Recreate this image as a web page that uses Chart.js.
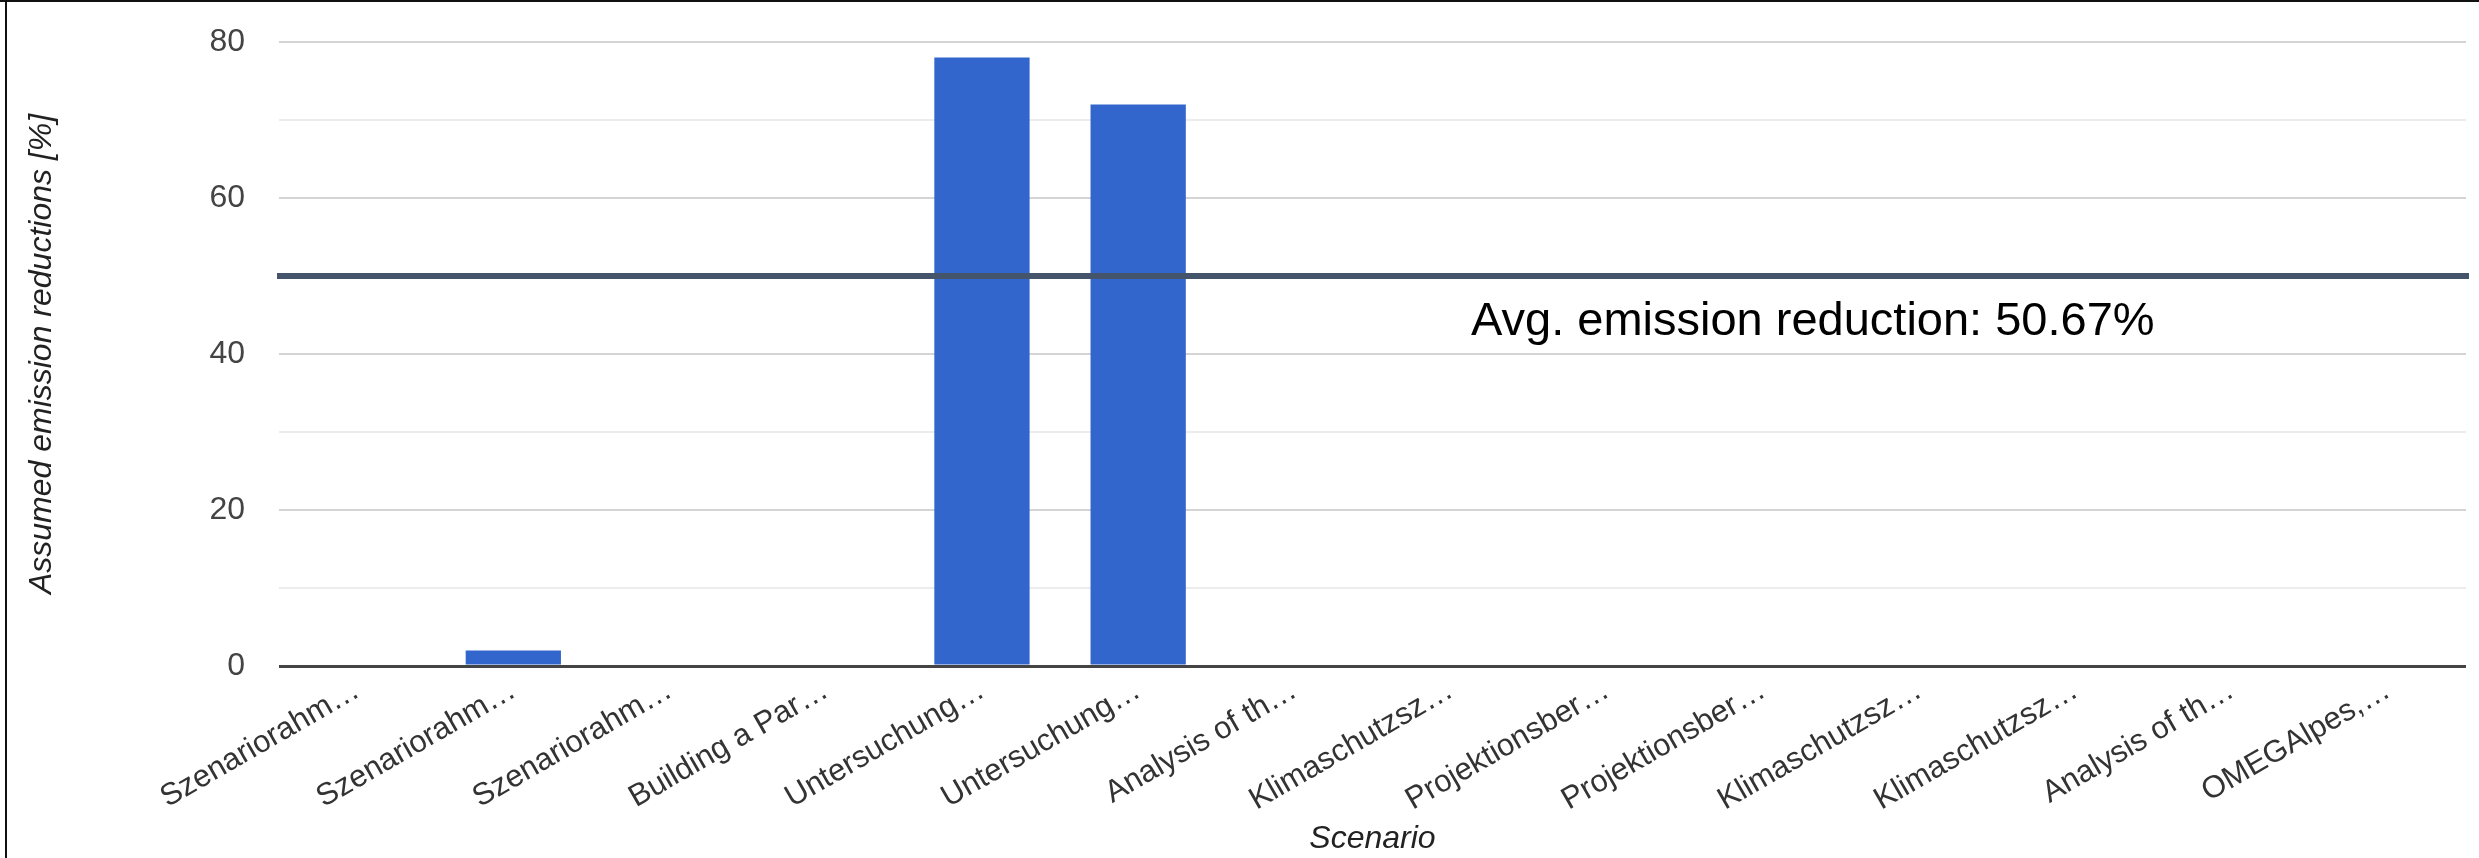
<!DOCTYPE html>
<html lang="en">
<head>
    <meta charset="UTF-8">
    <title>Assumed emission reductions</title>
    <style>
        html, body {
            margin: 0;
            padding: 0;
            background: #fff;
        }
        #wrap {
            width: 2479px;
            height: 858px;
        }
    </style>
</head>
<body>
    <div id="wrap">
        <canvas id="chart" width="2479" height="858"></canvas>
    </div>
<script src="https://cdn.jsdelivr.net/npm/chart.js"></script>
<script>
    // data
    const scenarios = [
        'Szenariorahm…', 'Szenariorahm…', 'Szenariorahm…', 'Building a Par…',
        'Untersuchung…', 'Untersuchung…', 'Analysis of th…', 'Klimaschutzsz…',
        'Projektionsber…', 'Projektionsber…', 'Klimaschutzsz…', 'Klimaschutzsz…',
        'Analysis of th…', 'OMEGAlpes,…'
    ];
    const reductions = [0, 2, 0, 0, 78, 72, 0, 0, 0, 0, 0, 0, 0, 0];
    const yTicks = [0, 20, 40, 60, 80];
    const avgLineValue = 50;
    const avgLabel = 'Avg. emission reduction: 50.67%';

    const fontFam = '"Liberation Sans", Arial, sans-serif';

    // frame, average line and its label
    const extras = {
        id: 'extras',
        beforeDraw(chart) {
            const ctx = chart.ctx;
            ctx.save();
            ctx.fillStyle = '#fff';
            ctx.fillRect(0, 0, chart.width, chart.height);
            ctx.fillStyle = '#111';
            ctx.fillRect(0, 0, chart.width, 2);
            ctx.fillRect(5, 0, 2, chart.height);
            ctx.restore();
        },
        afterDatasetsDraw(chart) {
            const ctx = chart.ctx;
            const y = chart.scales.y.getPixelForValue(avgLineValue);
            ctx.save();
            ctx.strokeStyle = '#44546A';
            ctx.lineWidth = 6;
            ctx.beginPath();
            ctx.moveTo(chart.chartArea.left - 2, y);
            ctx.lineTo(chart.width - 10, y);
            ctx.stroke();
            ctx.fillStyle = '#000';
            ctx.font = '47px ' + fontFam;
            ctx.textBaseline = 'alphabetic';
            ctx.fillText(avgLabel, 1471, y + 59);
            ctx.restore();
        }
    };

    new Chart(document.getElementById('chart'), {
        type: 'bar',
        data: {
            labels: scenarios,
            datasets: [{
                data: reductions,
                backgroundColor: '#3366CC',
                categoryPercentage: 1,
                barPercentage: 0.61
            }]
        },
        options: {
            responsive: false,
            animation: false,
            devicePixelRatio: 1,
            layout: {
                padding: { left: 8, right: 13, top: 42, bottom: 0 }
            },
            plugins: {
                legend: { display: false },
                tooltip: { enabled: false }
            },
            scales: {
                x: {
                    grid: { display: false, drawTicks: false },
                    border: { display: false },
                    ticks: {
                        autoSkip: false,
                        minRotation: 30,
                        maxRotation: 30,
                        padding: 6,
                        color: '#333',
                        font: { family: fontFam, size: 31 }
                    },
                    title: {
                        display: true,
                        text: 'Scenario',
                        color: '#222',
                        padding: { top: 0, bottom: 0 },
                        font: { family: fontFam, size: 32, style: 'italic' }
                    },
                    afterFit: (s) => { s.height = 192; }
                },
                y: {
                    min: 0,
                    max: 80,
                    border: { display: false },
                    grid: {
                        drawTicks: false,
                        color: (c) => c.tick.value === 0 ? '#444' : (yTicks.includes(c.tick.value) ? '#d4d4d4' : '#ececec'),
                        lineWidth: (c) => c.tick.value === 0 ? 3 : 2
                    },
                    ticks: {
                        stepSize: 10,
                        padding: 34,
                        color: '#444',
                        font: { family: fontFam, size: 32 },
                        callback: (v) => yTicks.includes(v) ? v : ''
                    },
                    title: {
                        display: true,
                        text: 'Assumed emission reductions [%]',
                        color: '#222',
                        padding: { top: 15, bottom: 0 },
                        font: { family: fontFam, size: 32, style: 'italic' }
                    },
                    afterFit: (s) => {
                        s.width = 271;
                        s.paddingTop = 0;
                        s.paddingBottom = 0;
                    }
                }
            }
        },
        plugins: [extras]
    });
</script>
</body>
</html>
